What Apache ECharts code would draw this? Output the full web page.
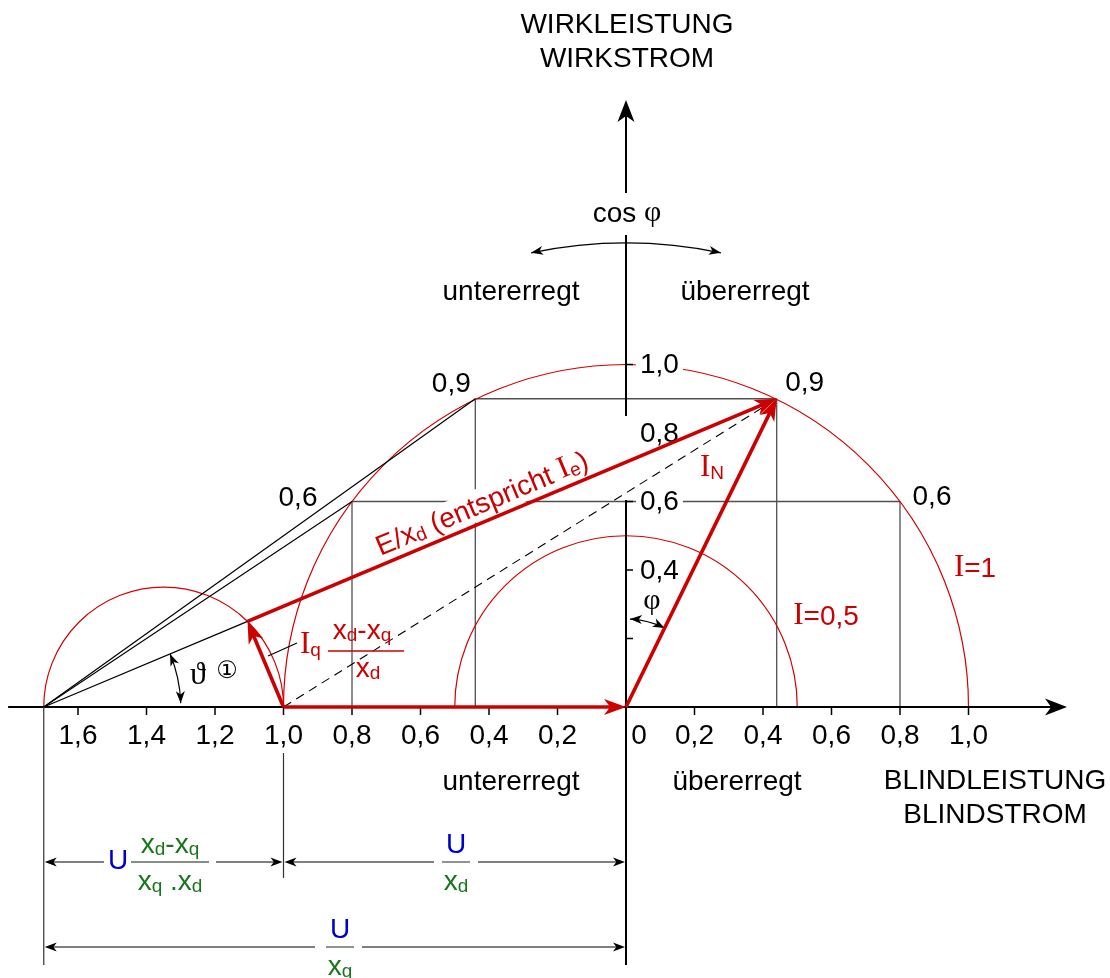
<!DOCTYPE html>
<html><head><meta charset="utf-8">
<script src="https://cdn.jsdelivr.net/npm/echarts@6/dist/echarts.min.js"></script>
<style>html,body{margin:0;padding:0;background:#fff}#c{width:1110px;height:978px}</style>
</head><body><div id="c"></div>
<script>
// ---------------- data (per-unit values) ----------------
const xTickValues = [-1.6,-1.4,-1.2,-1.0,-0.8,-0.6,-0.4,-0.2,0,0.2,0.4,0.6,0.8,1.0];
const xTickLabels = ['1,6','1,4','1,2','1,0','0,8','0,6','0,4','0,2','0','0,2','0,4','0,6','0,8','1,0'];
const yTickValues = [0.2,0.4,0.6,1.0];
const yLabelValues = [0.4,0.6,0.8,1.0];
const yLabelTexts = ['0,4','0,6','0,8','1,0'];
const circleCentersX = [0, 0, -1.35];
const circleRadii = [1.0, 0.5, 0.35];
const U_over_xd = 1.0;
const U_over_xq = 1.7;
const pointIN = [0.44, 0.90];        // I_N, cos phi = 0,9 (übererregt)
const point06 = [0.80, 0.60];        // cos phi = 0,6
const pointTheta = [-1.105, 0.25];   // end of I_q (x_d-x_q)/x_d
const cornerLabels = ['0,9','0,9','0,6','0,6'];

// ---------------- layout ----------------
const PXU = 342.5, OX = 626, OY = 707, W = 1110, H = 978;
const XMIN = -OX / PXU, XMAX = (W - OX) / PXU, YMAX = OY / PXU, YMIN = -(H - OY) / PXU;
const SANS = '"Liberation Sans", Arial, Helvetica, sans-serif';
const SERIF = '"Liberation Serif", "DejaVu Serif", "Times New Roman", serif';
const RED = '#cc0000', RED_THIN = '#d40000', GRAY = '#505050', GREEN = '#17761a', BLUE = '#0000cc';
const xAxisRange = [-1.804, 1.2876];
const yAxisPieces = [[1.772, 1.5007], [1.378, 0.8496], [0.6044, -0.7533]];

const mirror = p => [-p[0], p[1]];
const seg = (a, b) => [a[0], a[1], b[0], b[1]];
const P = [-U_over_xq, 0], Q = [-U_over_xd, 0], O = [0, 0];

const graySegs = [
  seg(mirror(pointIN), pointIN), seg(mirror(pointIN), [-pointIN[0], 0]), seg(pointIN, [pointIN[0], 0]),
  seg(mirror(point06), point06), seg(mirror(point06), [-point06[0], 0]), seg(point06, [point06[0], 0])
];
const blackSegs = [seg(P, mirror(pointIN)), seg(P, mirror(point06)), seg(P, pointTheta)];
const dashedSegs = [seg(Q, pointIN)];
const redSegs = [seg(Q, O), seg(O, pointIN), seg(Q, pointTheta), seg(pointTheta, pointIN)];

function head(tip, u, L, Wd, color) {
  const px = -u[1], py = u[0];
  const bx = tip[0] - u[0] * L, by = tip[1] - u[1] * L;
  const nx = tip[0] - u[0] * L * 0.72, ny = tip[1] - u[1] * L * 0.72;
  return { type: 'polygon', shape: { points: [[tip[0], tip[1]], [bx + px * Wd / 2, by + py * Wd / 2], [nx, ny], [bx - px * Wd / 2, by - py * Wd / 2]] },
    style: { fill: color, stroke: null } };
}

function segmentSeries(data, o) {
  return {
    type: 'custom', coordinateSystem: 'cartesian2d', z: o.z || 3, silent: true, animation: false, clip: false,
    data: data,
    renderItem: function (params, api) {
      const a = api.coord([api.value(0), api.value(1)]), b = api.coord([api.value(2), api.value(3)]);
      const dx = b[0] - a[0], dy = b[1] - a[1], len = Math.hypot(dx, dy), ux = dx / len, uy = dy / len;
      let s = a, e = b; const ch = [];
      if (o.arrowEnd) { e = [b[0] - ux * o.L * 0.6, b[1] - uy * o.L * 0.6]; ch.push(head(b, [ux, uy], o.L, o.W, o.color)); }
      if (o.arrowStart) { s = [a[0] + ux * o.L * 0.6, a[1] + uy * o.L * 0.6]; ch.push(head(a, [-ux, -uy], o.L, o.W, o.color)); }
      ch.unshift({ type: 'line', shape: { x1: s[0], y1: s[1], x2: e[0], y2: e[1] },
        style: { stroke: o.color, lineWidth: o.width, lineDash: o.dash || null, fill: null } });
      return { type: 'group', children: ch };
    }
  };
}

const RICH = {
  a: { fontSize: 28, fontFamily: SANS, lineHeight: 31, verticalAlign: 'bottom' },
  s: { fontSize: 19, fontFamily: SANS, lineHeight: 14, verticalAlign: 'bottom' },
  i: { fontSize: 31, fontFamily: SERIF, lineHeight: 31, verticalAlign: 'bottom' },
  g: { fontSize: 30, fontFamily: SERIF, lineHeight: 31, verticalAlign: 'bottom' }
};

function textEl(x, y, text, o) {
  return { type: 'text', x: x, y: y, z: o && o.z || 10, silent: true,
    style: Object.assign({ legacy: false, text: text, fill: '#000', font: '28px ' + SANS, align: 'center', verticalAlign: 'middle' }, o || {}) };
}
function richEl(x, y, text, fill, o) {
  return textEl(x, y, text, Object.assign({ fill: fill, rich: RICH }, o || {}));
}

const series = [];
// gray projection lines
series.push(segmentSeries(graySegs, { color: GRAY, width: 1.3, z: 1 }));
// current circles
series.push({
  type: 'custom', coordinateSystem: 'cartesian2d', z: 1, silent: true, clip: false,
  data: circleRadii.map((r, i) => [circleCentersX[i], 0, r]),
  renderItem: function (params, api) {
    const c = api.coord([api.value(0), api.value(1)]); const r = api.size([api.value(2), 0])[0];
    return { type: 'arc', shape: { cx: c[0], cy: c[1], r: r, startAngle: Math.PI, endAngle: 2 * Math.PI, clockwise: true },
      style: { stroke: RED_THIN, lineWidth: 1.2, fill: null } };
  }
});
// y labels with white background
series.push({
  type: 'custom', coordinateSystem: 'cartesian2d', z: 2, silent: true, clip: false,
  data: yLabelValues.map(v => [0, v]),
  renderItem: function (params, api) {
    const c = api.coord([0, api.value(1)]);
    return textEl(c[0] + 10, c[1] + 1, yLabelTexts[params.dataIndex], { align: 'left', backgroundColor: '#fff', padding: [2, 4], z: 2 });
  }
});
// E/x_d label (along the vector, white background)
series.push({
  type: 'custom', coordinateSystem: 'cartesian2d', z: 2, silent: true, clip: false,
  data: [seg(pointTheta, pointIN)],
  renderItem: function (params, api) {
    const a = api.coord([api.value(0), api.value(1)]), b = api.coord([api.value(2), api.value(3)]);
    const dx = b[0] - a[0], dy = b[1] - a[1], len = Math.hypot(dx, dy), ux = dx / len, uy = dy / len;
    const nx = uy, ny = -ux, t = 0.456, off = 18;
    return { type: 'text', x: a[0] + dx * t + nx * off, y: a[1] + dy * t + ny * off, rotation: Math.atan2(-dy, dx), z: 2,
      style: { legacy: false, text: '{a|E/x}{s|d}{a| (entspricht }{i|I}{s|e}{a|)}', fill: RED, rich: RICH,
        align: 'center', verticalAlign: 'middle', backgroundColor: '#fff', padding: [0, 3] } };
  }
});
// axes
series.push({
  type: 'custom', coordinateSystem: 'cartesian2d', z: 3, silent: true, clip: false,
  data: [[0, 0]],
  renderItem: function (params, api) {
    const ch = [];
    const x0 = api.coord([xAxisRange[0], 0]), x1 = api.coord([xAxisRange[1], 0]);
    ch.push({ type: 'line', shape: { x1: x0[0], y1: x0[1], x2: x1[0] - 14, y2: x1[1] }, style: { stroke: '#000', lineWidth: 2 } });
    ch.push(head(x1, [1, 0], 22, 17, '#000'));
    yAxisPieces.forEach(function (pc, k) {
      const a = api.coord([0, pc[0]]), b = api.coord([0, pc[1]]);
      ch.push({ type: 'line', shape: { x1: a[0], y1: k === 0 ? a[1] + 14 : a[1], x2: b[0], y2: b[1] }, style: { stroke: '#000', lineWidth: 2 } });
      if (k === 0) ch.push(head(a, [0, -1], 22, 17, '#000'));
    });
    return { type: 'group', children: ch };
  }
});
// x ticks
series.push({
  type: 'custom', coordinateSystem: 'cartesian2d', z: 3, silent: true, clip: false,
  data: xTickValues.filter(v => v !== 0).map(v => [v, 0]),
  renderItem: function (params, api) {
    const c = api.coord([api.value(0), 0]);
    return { type: 'line', shape: { x1: c[0], y1: c[1], x2: c[0], y2: c[1] + 8 }, style: { stroke: '#000', lineWidth: 1.5 } };
  }
});
// y ticks
series.push({
  type: 'custom', coordinateSystem: 'cartesian2d', z: 3, silent: true, clip: false,
  data: yTickValues.map(v => [0, v]),
  renderItem: function (params, api) {
    const c = api.coord([0, api.value(1)]);
    return { type: 'line', shape: { x1: c[0], y1: c[1], x2: c[0] + 7, y2: c[1] }, style: { stroke: '#000', lineWidth: 1.5 } };
  }
});
// x tick labels
series.push({
  type: 'custom', coordinateSystem: 'cartesian2d', z: 5, silent: true, clip: false,
  data: xTickValues.map(v => [v, 0]),
  renderItem: function (params, api) {
    const c = api.coord([api.value(0), 0]);
    const dx = api.value(0) === 0 ? 13 : 0;
    return textEl(c[0] + dx, c[1] + 29, xTickLabels[params.dataIndex], { z: 5 });
  }
});
// corner labels at the cos phi points
series.push({
  type: 'custom', coordinateSystem: 'cartesian2d', z: 5, silent: true, clip: false,
  data: [mirror(pointIN), pointIN, mirror(point06), point06],
  renderItem: function (params, api) {
    const c = api.coord([api.value(0), api.value(1)]);
    const offs = [[-24, -14], [28, -15], [-54, -3], [32, -4]][params.dataIndex];
    return textEl(c[0] + offs[0], c[1] + offs[1], cornerLabels[params.dataIndex], { z: 5 });
  }
});
// construction lines
series.push(segmentSeries(blackSegs, { color: '#000', width: 1.2, z: 3 }));
series.push(segmentSeries(dashedSegs, { color: '#000', width: 1.1, z: 3, dash: [9, 6] }));
// red vectors
series.push(segmentSeries(redSegs, { color: RED, width: 3.6, z: 4, arrowEnd: true, L: 22, W: 16 }));
// annotation arcs (cos phi, phi, theta)
const thetaDeg = Math.atan2(pointTheta[1] - P[1], pointTheta[0] - P[0]) * 180 / Math.PI;
const phiLineDeg = Math.atan2(pointIN[1], pointIN[0]) * 180 / Math.PI;
series.push({
  type: 'custom', coordinateSystem: 'cartesian2d', z: 3, silent: true, clip: false,
  data: [[0, 0, 1.3547, 78.2, 101.8], [0, 0, 0.257, phiLineDeg, 87.4], [P[0], 0, 0.40, 1.6, thetaDeg]],
  renderItem: function (params, api) {
    const c = api.coord([api.value(0), api.value(1)]); const r = api.size([api.value(2), 0])[0];
    const a0 = api.value(3) * Math.PI / 180, a1 = api.value(4) * Math.PI / 180;
    const ch = [{ type: 'arc', shape: { cx: c[0], cy: c[1], r: r, startAngle: -a0, endAngle: -a1, clockwise: false }, style: { stroke: '#000', lineWidth: 1.2, fill: null } }];
    const p1 = [c[0] + r * Math.cos(a1), c[1] - r * Math.sin(a1)], p0 = [c[0] + r * Math.cos(a0), c[1] - r * Math.sin(a0)];
    ch.push(head(p1, [-Math.sin(a1), -Math.cos(a1)], 12, 9, '#000'));
    ch.push(head(p0, [Math.sin(a0), Math.cos(a0)], 12, 9, '#000'));
    return { type: 'group', children: ch };
  }
});
// dimension lines + extension lines
series.push({
  type: 'custom', coordinateSystem: 'cartesian2d', z: 3, silent: true, clip: false,
  data: [[-U_over_xq, -U_over_xd, 0], [-U_over_xd, 0, 0], [-U_over_xq, 0, 1]],
  renderItem: function (params, api) {
    const a = api.coord([api.value(0), 0]), b = api.coord([api.value(1), 0]);
    const y = a[1] + (api.value(2) ? 240 : 155);
    const ch = [{ type: 'line', shape: { x1: a[0] + 6, y1: y, x2: b[0] - 6, y2: y }, style: { stroke: '#000', lineWidth: 1.2 } },
      head([a[0] + 1, y], [-1, 0], 12, 9, '#000'), head([b[0] - 1, y], [1, 0], 12, 9, '#000')];
    if (params.dataIndex === 0) {
      ch.push({ type: 'line', shape: { x1: a[0], y1: a[1], x2: a[0], y2: a[1] + 258 }, style: { stroke: '#333', lineWidth: 1.2 } });
      ch.push({ type: 'line', shape: { x1: b[0], y1: b[1] + 46, x2: b[0], y2: b[1] + 171 }, style: { stroke: '#333', lineWidth: 1.2 } });
    }
    return { type: 'group', children: ch };
  }
});

// ---------------- free annotations ----------------
const G = [];
G.push(textEl(627, 25, 'WIRKLEISTUNG'));
G.push(textEl(627, 59, 'WIRKSTROM'));
G.push(richEl(627, 213, '{a|cos }{g|φ}', '#000'));
G.push(textEl(511, 292, 'untererregt'));
G.push(textEl(745, 292, 'übererregt'));
G.push(textEl(511, 782, 'untererregt'));
G.push(textEl(737, 782, 'übererregt'));
G.push(textEl(995, 781, 'BLINDLEISTUNG'));
G.push(textEl(995, 815, 'BLINDSTROM'));
G.push(richEl(975, 568, '{i|I}{a|=1}', RED));
G.push(richEl(826, 616, '{i|I}{a|=0,5}', RED));
G.push(richEl(700, 468, '{i|I}{s|N}', RED, { align: 'left' }));
G.push(textEl(652, 601, 'φ', { font: '30px ' + SERIF }));
G.push(textEl(198, 676, 'ϑ', { font: '32px ' + SERIF }));
G.push(textEl(227, 672, '\u2460', { font: '24px "DejaVu Sans", sans-serif' }));
// I_q label
G.push({ type: 'line', z: 10, silent: true, shape: { x1: 268, y1: 656, x2: 297, y2: 643 }, style: { stroke: '#000', lineWidth: 1.1 } });
G.push(richEl(300, 645, '{i|I}{s|q}', RED, { align: 'left' }));
G.push(richEl(362, 630, '{a|x}{s|d}{a|-x}{s|q}', RED));
G.push({ type: 'line', z: 10, silent: true, shape: { x1: 328, y1: 651, x2: 404, y2: 651 }, style: { stroke: RED, lineWidth: 1.5 } });
G.push(richEl(368, 668, '{a|x}{s|d}', RED));
// dimension labels
function dimLabel(cx, ly, gap, num, den, lineHalf, uX) {
  const out = [];
  out.push({ type: 'rect', z: 9, silent: true, shape: { x: gap[0], y: ly - 4, width: gap[1] - gap[0], height: 8 }, style: { fill: '#fff' } });
  out.push({ type: 'line', z: 10, silent: true, shape: { x1: cx - lineHalf, y1: ly, x2: cx + lineHalf, y2: ly }, style: { stroke: '#5b6b5b', lineWidth: 1.4 } });
  if (uX !== undefined) out.push(textEl(uX, ly - 1, 'U', { fill: BLUE }));
  else out.push(textEl(cx, ly - 17, 'U', { fill: BLUE }));
  if (num) out.push(richEl(cx, ly - 18, num, GREEN));
  if (den) out.push(richEl(cx, ly + 19, den, GREEN));
  return out;
}
dimLabel(170, 862, [104, 216], '{a|x}{s|d}{a|-x}{s|q}', '{a|x}{s|q}{a| .x}{s|d}', 39, 118).forEach(e => G.push(e));
dimLabel(456, 862, [434, 478], null, '{a|x}{s|d}', 14).forEach(e => G.push(e));
dimLabel(340, 947, [315, 362], null, '{a|x}{s|q}', 14).forEach(e => G.push(e));

const chart = echarts.init(document.getElementById('c'), null, { renderer: 'canvas' });
chart.setOption({
  animation: false,
  backgroundColor: '#fff',
  grid: { left: 0, right: 0, top: 0, bottom: 0, containLabel: false },
  xAxis: { type: 'value', min: XMIN, max: XMAX, show: false },
  yAxis: { type: 'value', min: YMIN, max: YMAX, show: false },
  series: series,
  graphic: { elements: G }
});
</script></body></html>
